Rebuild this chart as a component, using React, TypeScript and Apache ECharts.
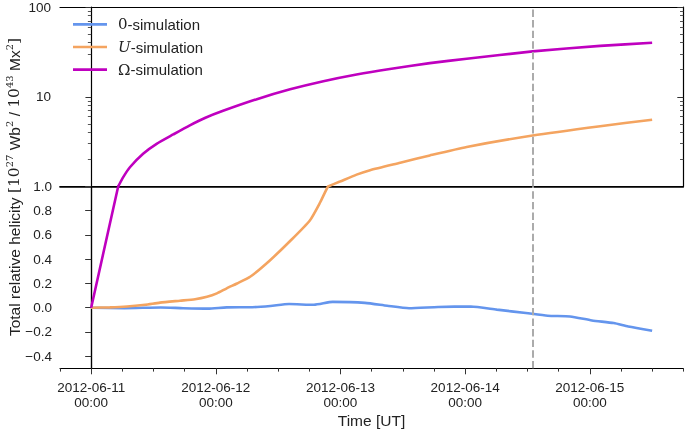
import React, { useEffect, useRef } from "react";
import * as echarts from "echarts";

// ---- data (x in hours since 2012-06-11 00:00 UT) ----
const T0 = Date.UTC(2012, 5, 11, 0, 0);
const HOUR = 3600 * 1000;

const xMinHours = -6;
const xMaxHours = 114;
const markerHours = 85; // 2012-06-14 13:00

const majorTickHours = [0, 24, 48, 72, 96];
const minorTickHours = [-6, 6, 12, 18, 30, 36, 42, 54, 60, 66, 78, 84, 90, 102, 108, 114];

const linearTicks = [-0.4, -0.2, 0.0, 0.2, 0.4, 0.6, 0.8, 1.0];
const logMajorTicks = [10, 100];
const logMinorTicks = [2, 3, 4, 5, 6, 7, 8, 9, 20, 30, 40, 50, 60, 70, 80, 90];

const seriesNames = ["0-simulation", "U-simulation", "Ω-simulation"];
const seriesColors = ["#6495ED", "#F4A460", "#BF00BF"];

const zeroHours = [0, 6.4, 13.4, 17.7, 22.5, 26.1, 31, 34.5, 38.1, 42.9, 46.5, 52.7, 57, 61.2, 66.8, 73.1, 78.1, 83.7, 87.9, 92.2, 96.4, 100.6, 103.4, 108];
const zeroValues = [0, -0.004, 0.002, -0.004, -0.008, 0.003, 0.004, 0.014, 0.03, 0.024, 0.048, 0.04, 0.016, -0.004, 0.006, 0.01, -0.016, -0.044, -0.066, -0.072, -0.105, -0.127, -0.155, -0.19];

const uHours = [0, 3.6, 6.9, 10.4, 13.25, 17.1, 20.0, 22.3, 24.2, 26.1, 28.1, 30.6, 34.4, 38.3, 42.1, 44.1, 45.6, 47.9, 51.1, 53.7, 59.5, 65.2, 72.3, 85.0, 98.0, 108];
const uValues = [0, 0.003, 0.01, 0.025, 0.042, 0.058, 0.07, 0.09, 0.118, 0.16, 0.2, 0.255, 0.39, 0.55, 0.72, 0.87, 1.0, 1.135, 1.356, 1.52, 1.84, 2.22, 2.76, 3.7, 4.7, 5.55];

const omegaHours = [0, 5.2, 6.2, 7.5, 10.0, 12.6, 15.8, 19.0, 22.0, 25.4, 31.9, 38.3, 44.7, 51.1, 57.5, 65.2, 72.3, 85, 98, 108];
const omegaValues = [0, 1.0, 1.28, 1.65, 2.32, 2.99, 3.8, 4.8, 5.83, 6.97, 9.4, 12.1, 14.9, 17.7, 20.4, 23.7, 26.5, 32.0, 36.9, 39.9];

const pair = (hs: number[], vs: number[]) => hs.map((h, i) => [h, vs[i]]);
const upperPart = (hs: number[], vs: number[]) =>
  pair(hs, vs).filter((p) => p[1] >= 0.9999);
const lowerPart = (hs: number[], vs: number[]) => {
  const all = pair(hs, vs);
  const idx = all.findIndex((p) => p[1] > 1.0001);
  return idx < 0 ? all : all.slice(0, idx + 1);
};

const pad = (n: number) => (n < 10 ? "0" + n : "" + n);
const timeLabel = (h: number) => {
  const d = new Date(T0 + h * HOUR);
  return `${d.getUTCFullYear()}-${pad(d.getUTCMonth() + 1)}-${pad(d.getUTCDate())}\n${pad(d.getUTCHours())}:${pad(d.getUTCMinutes())}`;
};
const linLabel = (v: number) => {
  const r = Math.round(v * 10) / 10;
  return (r < 0 ? "\u2212" : "") + Math.abs(r).toFixed(1);
};

const SANS = "Liberation Sans, Arial, sans-serif";
const SERIF = "DejaVu Serif, Liberation Serif, serif";
const TICK_FS = 13.5;
const LABEL_FS = 15.5;

export default function App() {
  const ref = useRef<HTMLDivElement>(null);

  useEffect(() => {
    if (!ref.current) return;
    const chart = echarts.init(ref.current, undefined, { renderer: "svg" });

    const L = 60, W = 623.3;
    const lineBlack = { show: true, lineStyle: { color: "#000", width: 1.2 } };
    const hiddenX = (gridIndex: number, position: string, width: number) => ({
      type: "value", gridIndex, position, min: xMinHours, max: xMaxHours,
      axisLine: { show: true, onZero: false, lineStyle: { color: "#000", width } },
      axisTick: { show: false }, axisLabel: { show: false }, splitLine: { show: false },
    });

    const markLine = {
      silent: true, symbol: "none", animation: false,
      label: { show: false },
      lineStyle: { color: "#ababab", width: 2, type: [7.4, 3.2] },
      data: [{ xAxis: markerHours }],
    };

    const mkSeries = (i: number, data: any[], xi: number, yi: number, smooth: number | boolean, extra: any = {}) => ({
      type: "line", name: seriesNames[i], data, xAxisIndex: xi, yAxisIndex: yi,
      showSymbol: false, symbol: "none", smooth, clip: true,
      itemStyle: { color: seriesColors[i] },
      lineStyle: { color: seriesColors[i], width: 2.6 },
      ...extra,
    });

    const option: any = {
      animation: false,
      grid: [
        { left: L, top: 5, width: W, height: 181.5 },
        { left: L, top: 186.5, width: W, height: 181.8 },
      ],
      xAxis: [
        hiddenX(0, "bottom", 1.6),
        hiddenX(0, "top", 1.2),
        {
          type: "value", gridIndex: 1, position: "bottom", min: xMinHours, max: xMaxHours,
          axisLine: { show: true, onZero: false, lineStyle: { color: "#000", width: 1.2 } },
          axisTick: { show: true, length: 6, lineStyle: { color: "#333", width: 1 }, customValues: majorTickHours },
          axisLabel: {
            show: true, customValues: majorTickHours, formatter: timeLabel,
            fontFamily: SANS, fontSize: TICK_FS, color: "#222", lineHeight: 15, margin: 12, align: "center",
          },
          splitLine: { show: false },
        },
        {
          type: "value", gridIndex: 1, position: "bottom", min: xMinHours, max: xMaxHours,
          axisLine: { show: false, onZero: false },
          axisTick: { show: true, length: 3.3, lineStyle: { color: "#333", width: 1 }, customValues: minorTickHours },
          axisLabel: { show: false }, splitLine: { show: false },
        },
        hiddenX(1, "top", 1.2),
      ],
      yAxis: [
        {
          type: "log", logBase: 10, gridIndex: 0, position: "left", min: 1, max: 100,
          axisLine: lineBlack,
          axisTick: { show: true, length: 5.7, lineStyle: { color: "#333" }, customValues: logMajorTicks },
          axisLabel: { show: true, customValues: logMajorTicks, formatter: (v: number) => String(Math.round(v)), fontFamily: SANS, fontSize: TICK_FS, color: "#222", margin: 9 },
          splitLine: { show: false }, minorTick: { show: false },
        },
        {
          type: "log", logBase: 10, gridIndex: 0, position: "left", min: 1, max: 100,
          axisLine: { show: false },
          axisTick: { show: true, length: 3.3, lineStyle: { color: "#555" }, customValues: logMinorTicks },
          axisLabel: { show: false }, splitLine: { show: false },
        },
        {
          type: "log", logBase: 10, gridIndex: 0, position: "right", min: 1, max: 100,
          axisLine: lineBlack,
          axisTick: { show: true, inside: true, length: 6, lineStyle: { color: "#333" }, customValues: logMajorTicks },
          axisLabel: { show: false }, splitLine: { show: false },
        },
        {
          type: "log", logBase: 10, gridIndex: 0, position: "right", min: 1, max: 100,
          axisLine: { show: false },
          axisTick: { show: true, inside: true, length: 3.3, lineStyle: { color: "#555" }, customValues: logMinorTicks },
          axisLabel: { show: false }, splitLine: { show: false },
        },
        {
          type: "value", gridIndex: 1, position: "left", min: -0.5, max: 1.0,
          axisLine: lineBlack,
          axisTick: { show: true, length: 3.6, lineStyle: { color: "#333" }, customValues: linearTicks },
          axisLabel: { show: true, customValues: linearTicks, formatter: linLabel, fontFamily: SANS, fontSize: TICK_FS, color: "#222", margin: 8 },
          splitLine: { show: false },
        },
        {
          type: "value", gridIndex: 1, position: "right", min: -0.5, max: 1.0,
          axisLine: lineBlack,
          axisTick: { show: true, inside: true, length: 6, lineStyle: { color: "#333" }, customValues: linearTicks },
          axisLabel: { show: false }, splitLine: { show: false },
        },
      ],
      legend: {
        data: seriesNames,
        orient: "vertical", left: 73, top: 15.8, padding: 0,
        icon: "rect", itemWidth: 34, itemHeight: 2.7, itemGap: 5.7,
        selectedMode: false,
        formatter: (name: string) => {
          if (name.startsWith("0")) return "{m|0}{t|-simulation}";
          if (name.startsWith("U")) return "{i|U}{t|-simulation}";
          return "{m|Ω}{t|-simulation}";
        },
        textStyle: {
          fontFamily: SANS, fontSize: 15, lineHeight: 17, color: "#222", padding: [0, 0, 0, 6],
          rich: {
            t: { fontFamily: SANS, fontSize: 15, lineHeight: 17, color: "#222" },
            m: { fontFamily: SERIF, fontSize: 15, lineHeight: 17, color: "#222" },
            i: { fontFamily: SERIF, fontStyle: "italic", fontSize: 15, lineHeight: 17, color: "#222" },
          },
        },
      },
      series: [
        mkSeries(0, pair(zeroHours, zeroValues), 2, 4, 0.2, { markLine }),
        mkSeries(1, lowerPart(uHours, uValues), 2, 4, 0.2),
        mkSeries(2, lowerPart(omegaHours, omegaValues), 2, 4, false),
        mkSeries(1, upperPart(uHours, uValues), 0, 0, 0.2),
        mkSeries(2, upperPart(omegaHours, omegaValues), 0, 0, 0.2, { markLine }),
      ],
      graphic: [
        {
          type: "text", x: 14, y: 187, rotation: Math.PI / 2,
          style: {
            text: "{a|Total relative helicity }{m|[10}{s|27}{a| Wb}{s|2}{a| / }{m|10}{s|43}{a| Mx}{s|2}{m|]}",
            align: "center", verticalAlign: "middle", fill: "#222",
            rich: {
              a: { fontFamily: SANS, fontSize: LABEL_FS, lineHeight: 20, fill: "#222" },
              m: { fontFamily: SERIF, fontSize: LABEL_FS, lineHeight: 20, fill: "#222" },
              s: { fontFamily: SERIF, fontSize: 10, lineHeight: 10, verticalAlign: "top", fill: "#222" },
            },
          },
        },
        {
          type: "text", x: 371.5, y: 420.5,
          style: { text: "Time [UT]", font: `${LABEL_FS}px ${SANS}`, fill: "#222", align: "center", verticalAlign: "middle" },
        },
      ],
    };

    chart.setOption(option);
    return () => chart.dispose();
  }, []);

  return <div ref={ref} style={{ position: "fixed", left: 0, top: 0, width: 685, height: 429 }} />;
}
